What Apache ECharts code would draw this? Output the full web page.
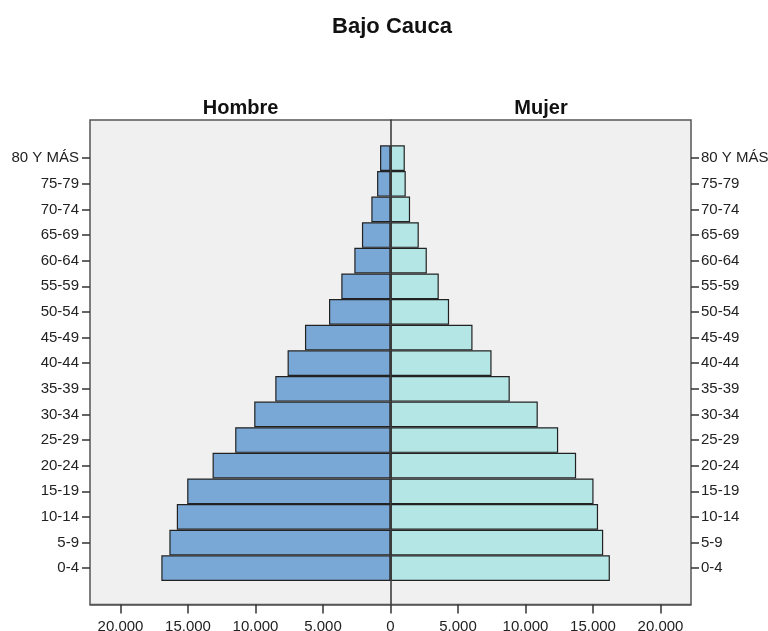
<!DOCTYPE html>
<html>
<head>
<meta charset="utf-8">
<script src="https://cdn.jsdelivr.net/npm/echarts@6/dist/echarts.min.js"></script>
<style>
  html, body { margin: 0; padding: 0; background: #fff; }
  #main { width: 768px; height: 631px; }
</style>
</head>
<body>
<div id="main"></div>
<script>
// grupos de edad, de abajo hacia arriba
var grupos = ['0-4', '5-9', '10-14', '15-19', '20-24', '25-29', '30-34', '35-39', '40-44',
              '45-49', '50-54', '55-59', '60-64', '65-69', '70-74', '75-79', '80 Y MÁS'];
var hombre = [16975, 16380, 15830, 15060, 13180, 11505, 10095, 8535, 7625,
              6335, 4555, 3645, 2680, 2115, 1420, 995, 775];
var mujer  = [16250, 15755, 15375, 15040, 13750, 12420, 10910, 8835, 7485,
              6075, 4340, 3575, 2690, 2095, 1450, 1130, 1060];
var ticksX = [-20000, -15000, -10000, -5000, 0, 5000, 10000, 15000, 20000];

window.addEventListener('load', function () {
    var chart = echarts.init(document.getElementById('main'));
    var fuente = 'Arial, "Liberation Sans", sans-serif';

    // una categoria vacia arriba y abajo para el margen dentro del marco
    var cats = [''].concat(grupos).concat(['']);
    var hData = ['-'].concat(hombre.map(function (v) { return -v; })).concat(['-']);
    var mData = ['-'].concat(mujer).concat(['-']);

    function miles(v) {
        return String(Math.abs(v)).replace(/\B(?=(\d{3})+(?!\d))/g, '.');
    }
    function ejeEdad(pos) {
        return {
            type: 'category', gridIndex: 1, position: pos, z: 6,
            data: cats, boundaryGap: true,
            axisLine: { show: false, onZero: false },
            axisTick: {
                show: true, inside: false, alignWithLabel: true, length: 8,
                interval: function (i, v) { return v !== ''; },
                lineStyle: { color: '#333', width: 1.5 }
            },
            axisLabel: { color: '#222', fontSize: 15, fontFamily: fuente,
                         margin: pos === 'left' ? 11 : 10, interval: 0 },
            splitLine: { show: false }
        };
    }

    var option = {
        backgroundColor: '#fff',
        animation: false,
        title: [
            { text: 'Bajo Cauca', left: 392, top: 16, textAlign: 'center', padding: 0,
              textStyle: { fontSize: 22, fontWeight: 'bold', color: '#111', fontFamily: fuente } },
            { text: 'Hombre', left: 240.5, top: 98, textAlign: 'center', padding: 0,
              textStyle: { fontSize: 20, fontWeight: 'bold', color: '#111', fontFamily: fuente } },
            { text: 'Mujer', left: 541, top: 98, textAlign: 'center', padding: 0,
              textStyle: { fontSize: 20, fontWeight: 'bold', color: '#111', fontFamily: fuente } }
        ],
        grid: [
            // marco del grafico
            { left: 90, right: 77, top: 120, bottom: 26.5, z: 0, outerBoundsMode: 'none',
              show: true, backgroundColor: '#f0f0f0', borderColor: '#555', borderWidth: 1.5 },
            // barras
            { left: 90, right: 77, top: 119.7, bottom: 24.4, outerBoundsMode: 'none' }
        ],
        xAxis: [
            {
                type: 'value', gridIndex: 0, min: -22260, max: 22260, z: 6,
                axisLine: { show: true, onZero: false, lineStyle: { color: '#555', width: 1.5 } },
                axisTick: { show: true, length: 9, customValues: ticksX,
                            lineStyle: { color: '#333', width: 1.5 } },
                axisLabel: { color: '#222', fontSize: 15, fontFamily: fuente, margin: 15,
                             customValues: ticksX, formatter: miles },
                splitLine: { show: false }
            },
            {
                type: 'value', gridIndex: 1, min: -22260, max: 22260, show: false
            }
        ],
        yAxis: [
            // linea del cero
            {
                type: 'value', gridIndex: 0, min: 0, max: 1, z: 5,
                axisLine: { show: true, onZero: true, lineStyle: { color: '#333', width: 1.5 } },
                axisTick: { show: false }, axisLabel: { show: false }, splitLine: { show: false }
            },
            ejeEdad('left'),
            ejeEdad('right')
        ],
        series: [
            {
                name: 'Hombre', type: 'bar', xAxisIndex: 1, yAxisIndex: 1,
                data: hData, barCategoryGap: 0, barGap: '-100%',
                itemStyle: { color: '#7aa8d6', borderColor: '#222', borderWidth: 1.2 }
            },
            {
                name: 'Mujer', type: 'bar', xAxisIndex: 1, yAxisIndex: 1,
                data: mData, barCategoryGap: 0, barGap: '-100%',
                itemStyle: { color: '#b5e6e6', borderColor: '#222', borderWidth: 1.2 }
            }
        ]
    };

    chart.setOption(option);
}, false);
</script>
</body>
</html>
